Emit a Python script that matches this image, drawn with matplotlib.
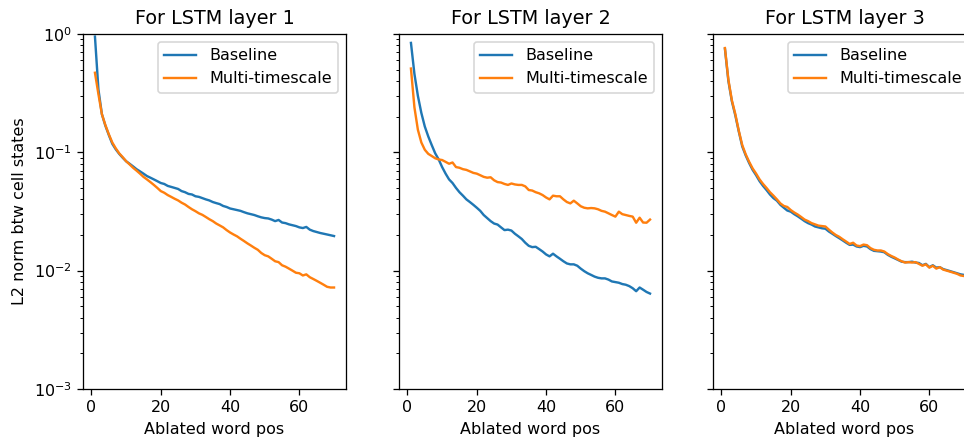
import numpy as np
import matplotlib
matplotlib.use('Agg')
import matplotlib.pyplot as plt

# Ablated word positions 1..70
pos = np.arange(1, 71)

layer1_baseline = [0.95, 0.34, 0.21, 0.168, 0.140, 0.118, 0.106, 0.097, 0.090, 0.084,
                   0.080, 0.076, 0.072, 0.069, 0.066, 0.063, 0.061, 0.059, 0.057, 0.055,
                   0.054, 0.052, 0.051, 0.050, 0.049, 0.047, 0.046, 0.0445, 0.0440, 0.0425,
                   0.0420, 0.0410, 0.0400, 0.0392, 0.0380, 0.0372, 0.0365, 0.0352, 0.0345, 0.0335,
                   0.0330, 0.0325, 0.0320, 0.0312, 0.0305, 0.0300, 0.0295, 0.0288, 0.0282, 0.0278,
                   0.0276, 0.0270, 0.0262, 0.0268, 0.0255, 0.0252, 0.0246, 0.0242, 0.0238, 0.0232,
                   0.0229, 0.0234, 0.0222, 0.0216, 0.0212, 0.0208, 0.0205, 0.0202, 0.0199, 0.0196]
layer1_multi = [0.47, 0.31, 0.21, 0.170, 0.142, 0.121, 0.108, 0.098, 0.091, 0.084,
                0.079, 0.074, 0.070, 0.066, 0.062, 0.059, 0.056, 0.053, 0.050, 0.0470,
                0.0455, 0.0435, 0.0420, 0.0405, 0.0392, 0.0375, 0.0362, 0.0345, 0.0330, 0.0318,
                0.0305, 0.0296, 0.0284, 0.0272, 0.0262, 0.0250, 0.0241, 0.0232, 0.0220, 0.0210,
                0.0202, 0.0195, 0.0186, 0.0178, 0.0170, 0.0163, 0.0156, 0.0150, 0.0141, 0.0135,
                0.0132, 0.0126, 0.0120, 0.0118, 0.0111, 0.0108, 0.0104, 0.0100, 0.0096, 0.0095,
                0.0091, 0.0093, 0.0088, 0.0085, 0.0082, 0.0079, 0.0076, 0.0073, 0.0072, 0.0072]

layer2_baseline = [0.84, 0.46, 0.30, 0.215, 0.165, 0.136, 0.115, 0.098, 0.087, 0.075,
                   0.066, 0.059, 0.055, 0.050, 0.046, 0.043, 0.040, 0.038, 0.036, 0.034,
                   0.032, 0.0295, 0.0278, 0.0262, 0.0250, 0.0245, 0.0232, 0.0220, 0.0222, 0.0218,
                   0.0205, 0.0195, 0.0185, 0.0172, 0.0162, 0.0158, 0.0159, 0.0152, 0.0145, 0.0137,
                   0.0132, 0.0139, 0.0132, 0.0126, 0.0120, 0.0115, 0.0113, 0.0113, 0.0110, 0.0104,
                   0.0099, 0.0095, 0.0092, 0.0089, 0.0087, 0.0086, 0.0086, 0.0084, 0.0081, 0.0080,
                   0.0079, 0.0077, 0.0076, 0.0074, 0.0071, 0.0067, 0.0072, 0.0069, 0.0066, 0.0064]
layer2_multi = [0.51, 0.24, 0.155, 0.121, 0.105, 0.097, 0.093, 0.089, 0.087, 0.086,
                0.083, 0.080, 0.082, 0.075, 0.074, 0.072, 0.071, 0.069, 0.067, 0.066,
                0.064, 0.062, 0.061, 0.0615, 0.058, 0.056, 0.0555, 0.054, 0.053, 0.0545,
                0.0535, 0.053, 0.053, 0.0515, 0.048, 0.0475, 0.046, 0.045, 0.0435, 0.0415,
                0.040, 0.043, 0.0425, 0.0425, 0.040, 0.038, 0.037, 0.039, 0.037, 0.035,
                0.034, 0.0336, 0.0338, 0.0336, 0.033, 0.032, 0.0315, 0.0305, 0.0295, 0.0286,
                0.0315, 0.030, 0.0295, 0.029, 0.0286, 0.0254, 0.028, 0.0255, 0.0254, 0.027]

layer3_baseline = [0.75, 0.40, 0.27, 0.205, 0.150, 0.112, 0.094, 0.081, 0.071, 0.064,
                   0.057, 0.052, 0.048, 0.044, 0.041, 0.039, 0.036, 0.034, 0.0322, 0.0315,
                   0.0300, 0.0288, 0.0275, 0.0262, 0.0252, 0.0245, 0.0236, 0.0232, 0.0228, 0.0226,
                   0.0214, 0.0205, 0.0196, 0.0188, 0.0180, 0.0172, 0.0165, 0.0166, 0.0160, 0.0158,
                   0.0162, 0.0160, 0.0152, 0.0147, 0.0146, 0.0145, 0.0143, 0.0136, 0.0131, 0.0127,
                   0.0123, 0.0119, 0.0118, 0.0118, 0.0119, 0.0117, 0.0116, 0.0111, 0.0114, 0.0107,
                   0.0111, 0.0106, 0.0107, 0.0103, 0.0101, 0.0099, 0.0097, 0.0095, 0.0093, 0.0092]
layer3_multi = [0.76, 0.41, 0.275, 0.21, 0.152, 0.115, 0.096, 0.083, 0.073, 0.066,
                0.059, 0.054, 0.050, 0.046, 0.043, 0.040, 0.037, 0.0352, 0.0345, 0.0325,
                0.0310, 0.0298, 0.0284, 0.0270, 0.0262, 0.0252, 0.0246, 0.0240, 0.0238, 0.0236,
                0.0222, 0.0210, 0.0200, 0.0193, 0.0184, 0.0176, 0.0168, 0.0172, 0.0163, 0.0161,
                0.0166, 0.0164, 0.0155, 0.0150, 0.0148, 0.0148, 0.0145, 0.0138, 0.0133, 0.0129,
                0.0124, 0.0120, 0.0117, 0.0118, 0.0117, 0.0118, 0.0114, 0.0110, 0.0113, 0.0106,
                0.0110, 0.0104, 0.0107, 0.0102, 0.0100, 0.0098, 0.0096, 0.0094, 0.0091, 0.0090]

layers = [(layer1_baseline, layer1_multi),
          (layer2_baseline, layer2_multi),
          (layer3_baseline, layer3_multi)]

DPI = 115
fig = plt.figure(figsize=(964 / DPI, 441 / DPI), dpi=DPI)
lefts = [0.0861, 0.4139, 0.7396]
axes = []
for left in lefts:
    ax = fig.add_axes([left, 0.118, 0.2728, 0.805],
                      sharey=axes[0] if axes else None)
    axes.append(ax)

for i, (ax, (base, multi)) in enumerate(zip(axes, layers)):
    ax.plot(pos, base, label='Baseline')
    ax.plot(pos, multi, label='Multi-timescale')
    ax.set_yscale('log')
    ax.set_ylim(1e-3, 1e0)
    ax.set_xticks([0, 20, 40, 60])
    ax.set_title('For LSTM layer %d' % (i + 1), fontsize=12)
    ax.set_xlabel('Ablated word pos')
    ax.legend(loc='upper right')
    if i > 0:
        ax.tick_params(labelleft=False)

axes[0].set_ylabel('L2 norm btw cell states')

plt.savefig('out.png', dpi=DPI)
